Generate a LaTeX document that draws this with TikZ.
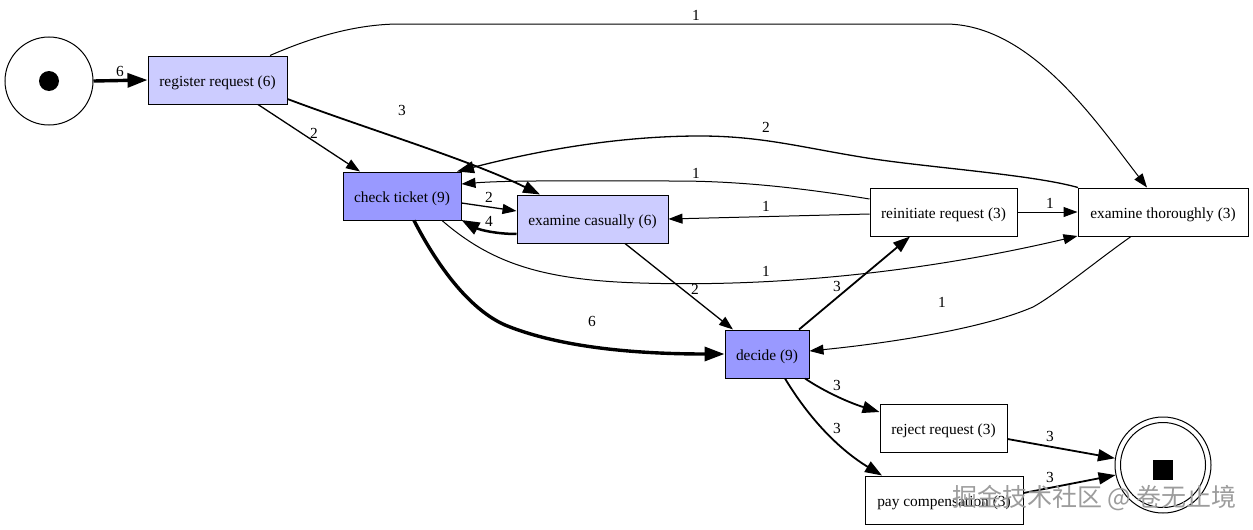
\documentclass[tikz,border=0pt]{standalone}
\usepackage{fontspec}
\setmainfont{Liberation Serif}
\newfontfamily\cjkwm{Noto Sans CJK SC}
\usetikzlibrary{arrows.meta}
\definecolor{lightact}{HTML}{CCCCFF}
\definecolor{darkact}{HTML}{9999FF}
\definecolor{wmgray}{HTML}{9C9C9C}
\tikzset{
  act/.style={draw=black,line width=1pt,inner sep=0pt,font=\fontsize{15.4}{17}\selectfont,minimum height=48pt,text height=14pt,text depth=0.5pt},
  place/.style={circle,draw=black,line width=1pt,inner sep=0pt,minimum size=88pt},
  lab/.style={inner sep=0pt,font=\fontsize{15.4}{17}\selectfont},
  thin edge/.style={draw=black,line width=1pt,-{Triangle[length=14pt,width=10pt]}},
  mid edge/.style={draw=black,line width=1.8pt,-{Triangle[length=17pt,width=12pt]}},
  thick edge/.style={draw=black,line width=2.5pt,-{Triangle[length=18pt,width=13pt]}},
  heavy edge/.style={draw=black,line width=3.4pt,-{Triangle[length=20pt,width=14pt]}},
}
\begin{document}
\begin{tikzpicture}[x=1pt,y=-1pt]
\useasboundingbox (0,0) rectangle (1253,530);
% nodes
\node[place] (start) at (49,81) {};
\node[circle,fill=black,inner sep=0pt,minimum size=20pt] (token) at (49,81) {};
\node[act,fill=lightact,minimum width=139pt] (reg) at (217.5,80) {register request (6)};
\node[act,fill=darkact,minimum width=118pt] (chk) at (402,196) {check ticket (9)};
\node[act,fill=lightact,minimum width=151pt] (cas) at (592.5,219) {examine casually (6)};
\node[act,fill=darkact,minimum width=84pt] (dec) at (767,354) {decide (9)};
\node[act,minimum width=147pt] (rei) at (943.5,212) {reinitiate request (3)};
\node[act,minimum width=170pt] (tho) at (1163,212) {examine thoroughly (3)};
\node[act,minimum width=127pt] (rej) at (943.5,428) {reject request (3)};
\node[act,minimum width=158pt] (pay) at (944,500) {pay compensation (3)};
\node[circle,draw=black,line width=1pt,inner sep=0pt,minimum size=96pt] (endo) at (1163,465) {};
\node[circle,draw=black,line width=1pt,inner sep=0pt,minimum size=85pt] (endi) at (1163,465) {};
\node[fill=black,inner sep=0pt,minimum size=20pt] (endtok) at (1163,470) {};
% edges
\draw[heavy edge] (start.east) -- (reg.west);
\draw[thin edge] ([xshift=52.5pt]reg.north) .. controls (310,38) and (355,24) .. (400,24) -- (945,24) .. controls (1030,24) and (1095,120) .. ([xshift=-16pt]tho.north);
\draw[mid edge] ([yshift=-19pt]reg.east) .. controls (370,130) and (470,160) .. ([xshift=-52.5pt]cas.north);
\draw[thin edge,line width=1.3pt] ([xshift=40.5pt]reg.south) -- ([xshift=-42pt]chk.north);
\draw[thin edge,line width=1.3pt] ([yshift=-7pt]chk.east) -- ([yshift=8pt]cas.west);
\draw[thick edge] ([yshift=-15pt]cas.west) .. controls (497,234) and (480,230) .. ([yshift=-24pt]chk.east);
\draw[heavy edge] ([xshift=12pt]chk.south) .. controls (450,290) and (485,318) .. (510,327) .. controls (570,350) and (650,354) .. (dec.west);
\draw[thin edge] ([xshift=40pt]chk.south) .. controls (490,262) and (540,280) .. (640,283) .. controls (800,288) and (950,266) .. ([yshift=-24pt]tho.west);
\draw[thin edge,line width=1.3pt] ([xshift=32.5pt]cas.south) -- ([xshift=-34pt]dec.north);
\draw[mid edge] ([xshift=32pt]dec.north) -- ([xshift=-33.5pt]rei.south);
\draw[thin edge] ([yshift=-2pt]rei.west) -- (cas.east);
\draw[thin edge] ([yshift=13pt]rei.west) .. controls (790,186) and (730,181) .. (675,181) .. controls (600,181) and (510,180) .. ([yshift=12pt]chk.east);
\draw[thin edge] (rei.east) -- (tho.west);
\draw[mid edge,line width=1.3pt] ([xshift=-85pt]tho.north) .. controls (1030,174) and (920,167) .. (861,157) .. controls (800,147) and (760,136) .. (700,136) .. controls (620,136) and (540,150) .. ([xshift=55pt]chk.north);
\draw[thin edge] ([xshift=-32pt]tho.south) .. controls (1095,262) and (1055,295) .. (1033,307) .. controls (980,330) and (880,344) .. ([yshift=3pt]dec.east);
\draw[mid edge] ([xshift=38pt]dec.south) .. controls (825,392) and (850,403) .. ([yshift=16pt]rej.west);
\draw[mid edge] ([xshift=18pt]dec.south) .. controls (810,420) and (840,450) .. ([xshift=-62pt]pay.north);
\draw[mid edge] ([yshift=-11pt]rej.east) -- (endo.172);
\draw[mid edge] ([yshift=7pt]pay.east) -- (endo.192);
% labels
\node[lab] (l1) at (120,71) {6};
\node[lab] (l2) at (696,15) {1};
\node[lab] (l3) at (402,110) {3};
\node[lab] (l4) at (314,133) {2};
\node[lab] (l5) at (489,197) {2};
\node[lab] (l6) at (489,221) {4};
\node[lab] (l7) at (592,321) {6};
\node[lab] (l8) at (766,271) {1};
\node[lab] (l9) at (695,289) {2};
\node[lab] (l10) at (837,286) {3};
\node[lab] (l11) at (766,206) {1};
\node[lab] (l12) at (696,173) {1};
\node[lab] (l13) at (1050,203) {1};
\node[lab] (l14) at (766,127) {2};
\node[lab] (l15) at (942,302) {1};
\node[lab] (l16) at (837,385) {3};
\node[lab] (l17) at (837,428) {3};
\node[lab] (l18) at (1050,436) {3};
\node[lab] (l19) at (1050,477) {3};
% watermark
\node[inner sep=0pt,text=wmgray,font=\cjkwm\fontsize{25}{27}\selectfont] (wm) at (1094.5,498) {掘金技术社区 @ 卷无止境};
\end{tikzpicture}
\end{document}
